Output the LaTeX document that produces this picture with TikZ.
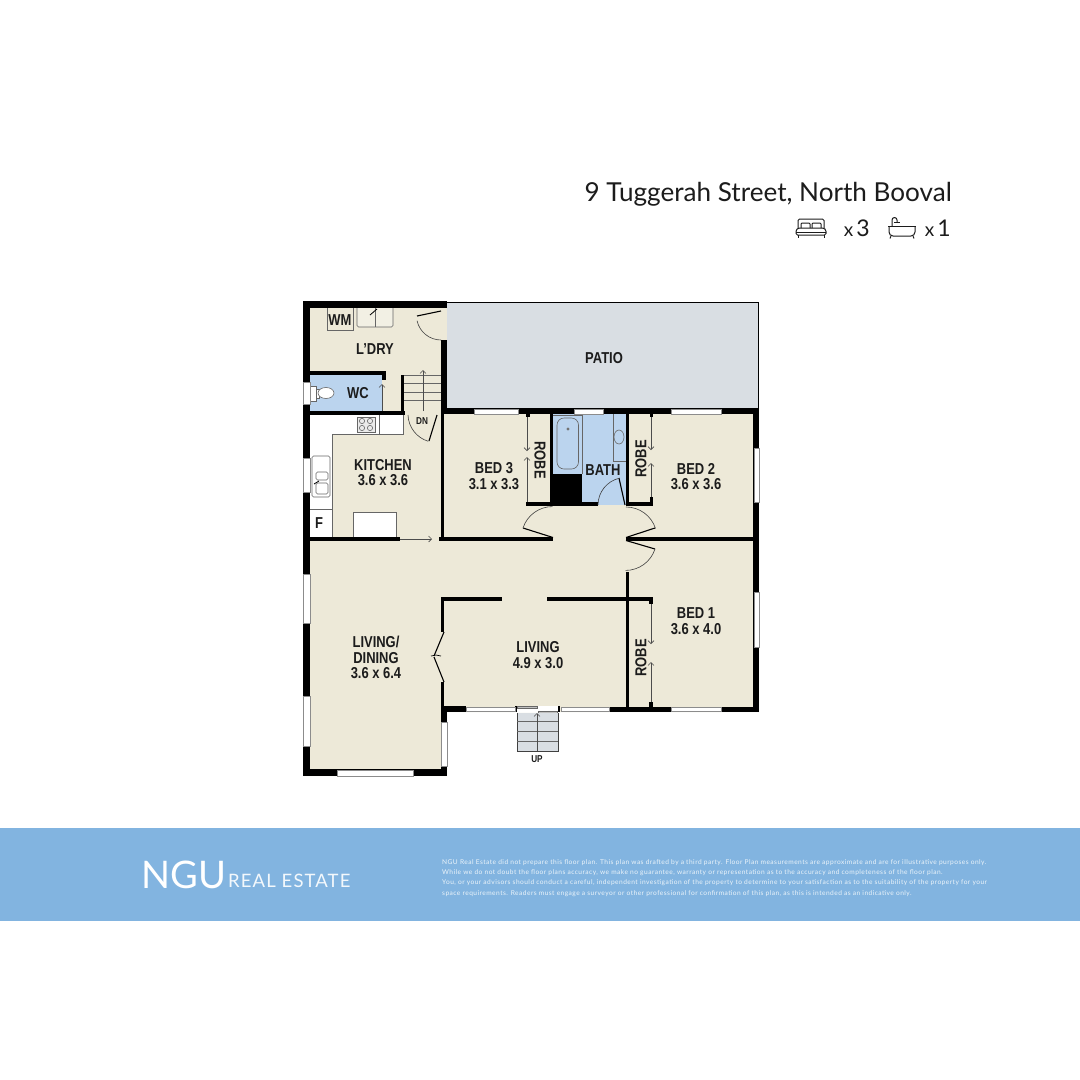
\documentclass[tikz,border=0pt]{standalone}
\usepackage{fontspec}
\usepackage{xcolor}
\usetikzlibrary{arrows.meta}
\setmainfont{Liberation Sans}
\newfontfamily\planfont[FakeStretch=0.82]{Liberation Sans}
\newfontfamily\titlefont{Lato}
\newfontfamily\brandfont[LetterSpace=6]{Lato}
\newfontfamily\finefont[LetterSpace=7]{Lato}
\definecolor{floorcol}{HTML}{EDE9D8}
\definecolor{patiocol}{HTML}{D9DEE3}
\definecolor{wetcol}{HTML}{BBD4EE}
\definecolor{bandcol}{HTML}{82B4E0}
\definecolor{inkcol}{HTML}{1C1C1C}
\tikzset{
  wall/.style={fill=black},
  pane/.style={fill=white,draw=black!45,line width=0.6pt},
  fixture/.style={draw=black!60,line width=0.6pt},
  doorarc/.style={draw=black!75,line width=0.6pt},
  doorleaf/.style={draw=black,line width=1.1pt},
  slide/.style={draw=black!70,line width=0.6pt,-{Straight Barb[length=3pt,width=6pt]}},
  roomlabel/.style={text=inkcol,align=center,inner sep=0pt,font=\planfont\bfseries\fontsize{15.8}{15.5}\selectfont},
  smalllabel/.style={text=inkcol,inner sep=0pt,font=\planfont\bfseries\fontsize{10}{10}\selectfont},
  iconline/.style={draw=inkcol,line width=1pt,line join=round},
  fineline/.style={anchor=base west,inner sep=0pt,text=white!85!bandcol,font=\finefont\fontsize{6.6}{7}\selectfont}
}
\begin{document}
\begin{tikzpicture}[x=1pt,y=-1pt]
  \useasboundingbox (0,0) rectangle (1080,1080);
  % ground
  \fill [white] (0,0) rectangle (1080,1080);
  \fill [bandcol] (0,828) rectangle (1080,921);
  \fill [floorcol] (303,301)--(447,301)--(447,408)--(759,408)--(759,712)--(447,712)--(447,776)--(303,776)--cycle;
  \fill [patiocol] (447,302) rectangle (758,410);
  \draw [black,line width=0.8pt] (447,302)--(758,302)--(758,410);
  \fill [wetcol] (310,375) rectangle (382,412);
  \fill [wetcol] (553,414) rectangle (626,505);
  % kitchen benches
  \fill [white] (310,415)--(403,415)--(403,434)--(332,434)--(332,538)--(310,538)--cycle;
  \draw [fixture] (403,415)--(403,434)--(332,434)--(332,538);
  \draw [fixture] (379,415)--(379,434);
  \draw [fixture] (310,509)--(332,509);
  \draw [fixture,fill=white] (353,537)--(353,512)--(396,512)--(396,537);
  \draw [fixture,fill=black!8] (357,417) rectangle (375,432);
  \draw [fixture] (362,421) circle (2.6);
  \draw [fixture] (370,421) circle (2.6);
  \draw [fixture] (362,428) circle (2.6);
  \draw [fixture] (370,428) circle (2.6);
  \draw [fixture,fill=white,rounded corners=1.5pt] (312,456) rectangle (330,497);
  \draw [fixture,rounded corners=1.5pt] (316,472) rectangle (328,480);
  \draw [fixture,rounded corners=1.5pt] (316,483) rectangle (328,494);
  \draw [black,line width=0.8pt] (314,484)--(319,481);
  % laundry fittings
  \draw [fixture] (327,308)--(327,330)--(353,330)--(353,308);
  \draw [fixture,fill=floorcol!70!white,rounded corners=1.5pt] (357,308)--(357,327)--(393,327)--(393,308);
  \draw [fixture] (375,308)--(375,327);
  \draw [black,line width=0.8pt] (370,315)--(377,309);
  % toilet
  \draw [fixture,fill=white] (310,386) rectangle (316,401);
  \draw [fixture,fill=white] (316,389) rectangle (319,398);
  \draw [fixture,fill=white] (326,393) ellipse (8 and 5.5);
  % bath fittings
  \fill [black] (550,474) rectangle (582,505);
  \draw [fixture] (553,415)--(582,415)--(582,474);
  \draw [fixture,rounded corners=7pt] (557,418) rectangle (578.5,469);
  \fill [black!55] (568,429) circle (1.6);
  \draw [fixture] (613,414)--(613,461)--(626,461);
  \draw [fixture] (619,437) ellipse (5 and 7);
  % stairs down
  \draw [fixture] (404,375)--(441,375);
  \draw [fixture] (404,383)--(441,383);
  \draw [fixture] (404,392)--(441,392);
  \draw [fixture] (404,400)--(441,400);
  \draw [slide] (423,411)--(423,370);
  % walls
  \fill [wall] (303,301) rectangle (447,308);
  \fill [wall] (303,301) rectangle (310,776);
  \fill [wall] (441,340) rectangle (447,414);
  \fill [wall] (310,371) rectangle (386,375);
  \fill [wall] (382,375) rectangle (386,380);
  \fill [wall] (380,411) rectangle (384,415);
  \fill [wall] (310,411) rectangle (405,415);
  \fill [wall] (401,375) rectangle (404,415);
  \fill [wall] (441,408) rectangle (759,414);
  \fill [wall] (441,414) rectangle (444,541);
  \fill [wall] (753,408) rectangle (759,712);
  \fill [wall] (526,414) rectangle (530,417);
  \fill [wall] (526,502) rectangle (553,506);
  \fill [wall] (550,414) rectangle (553,506);
  \fill [wall] (626,414) rectangle (629,506);
  \fill [wall] (553,502) rectangle (598,506);
  \fill [wall] (626,502) rectangle (653,506);
  \fill [wall] (650,497) rectangle (653,506);
  \fill [wall] (650,414) rectangle (653,417);
  \fill [wall] (303,537) rectangle (400,541);
  \fill [wall] (439,537) rectangle (553,541);
  \fill [wall] (626,537) rectangle (753,541);
  \fill [wall] (626,572) rectangle (629,712);
  \fill [wall] (547,597) rectangle (653,601);
  \fill [wall] (649,597) rectangle (653,604);
  \fill [wall] (649,702) rectangle (653,708);
  \fill [wall] (441,597) rectangle (502,601);
  \fill [wall] (441,597) rectangle (444,632);
  \fill [wall] (441,682) rectangle (444,706);
  \fill [wall] (441,706) rectangle (466,712);
  \fill [wall] (441,706) rectangle (447,776);
  \fill [wall] (515,706) rectangle (517,712);
  \fill [wall] (558,706) rectangle (560,712);
  \fill [wall] (609,707) rectangle (759,712);
  \fill [wall] (303,769) rectangle (447,776);
  % windows
  \draw [pane] (303,382) rectangle (310,404);
  \draw [pane] (303,458) rectangle (310,492);
  \draw [pane] (303,574) rectangle (310,623);
  \draw [pane] (303,696) rectangle (310,746);
  \draw [pane] (337,770) rectangle (413,776);
  \draw [pane] (441,722) rectangle (447,766);
  \draw [pane] (466,707) rectangle (515,711);
  \draw [pane] (561,707) rectangle (609,711);
  \draw [pane] (671,707) rectangle (721,711);
  \draw [pane] (754,592) rectangle (759,647);
  \draw [pane] (754,448) rectangle (759,502);
  \draw [pane] (671,409) rectangle (721,414);
  \draw [pane] (574,409) rectangle (603,414);
  \draw [pane] (474,409) rectangle (518,414);
  % doors
  \draw [doorleaf] (441,311)--(417,316);
  \draw [doorarc] (441,340) arc (90:168:24.5);
  \draw [doorleaf] (437,415)--(429,441);
  \draw [doorarc] (408,415) arc (178:107:28.5);
  \draw [doorleaf] (625,505)--(619,478);
  \draw [doorarc] (598,505) arc (180:257:27.5);
  \draw [doorleaf] (553,537.5)--(523,528);
  \draw [doorarc] (523,528) arc (198:270:31);
  \draw [doorleaf] (626,537.5)--(655,528);
  \draw [doorleaf] (626,540.5)--(655,549);
  \draw [doorarc] (626,507) arc (270:342:31);
  \draw [doorarc] (655,549) arc (18:90:31);
  \draw [doorleaf] (444,632)--(434,656);
  \draw [doorleaf] (444,682)--(434,657);
  \draw [black,line width=0.7pt] (431,656)--(436,655)--(441,656);
  % sliding robe doors
  \draw [slide] (382,411)--(382,384);
  \draw [slide] (527,417)--(527,451);
  \draw [slide] (527,502)--(527,457);
  \draw [slide] (651,417)--(651,450);
  \draw [slide] (651,497)--(651,463);
  \draw [slide] (651,604)--(651,644);
  \draw [slide] (651,702)--(651,662);
  \draw [slide] (400,539)--(432,539);
  % entry and front stairs
  \fill [white] (517,706) rectangle (558,712);
  \draw [fixture,fill=black!25] (517,706) rectangle (537,708);
  \draw [fixture,fill=black!25] (538,711) rectangle (557,713);
  \fill [patiocol] (517,713) rectangle (558,751);
  \draw [black!75,line width=0.7pt] (517,713)--(517,751)--(558,751)--(558,713);
  \draw [fixture] (517,721)--(558,721);
  \draw [fixture] (517,731)--(558,731);
  \draw [fixture] (517,741)--(558,741);
  \draw [slide] (537,751)--(537,713);
  % labels
  \node [roomlabel] (patio) at (604,358) {PATIO};
  \node [roomlabel] (ldry) at (375,349) {L’DRY};
  \node [roomlabel] (wm) at (340,320) {WM};
  \node [roomlabel] (wc) at (358,393) {WC};
  \node [roomlabel] (fridge) at (319,523) {F};
  \node [roomlabel] (kitchen) at (383,472.5) {KITCHEN\\3.6 x 3.6};
  \node [roomlabel] (bedthree) at (494,476) {BED 3\\3.1 x 3.3};
  \node [roomlabel] (bath) at (603,470) {BATH};
  \node [roomlabel] (bedtwo) at (696,476.5) {BED 2\\3.6 x 3.6};
  \node [roomlabel] (bedone) at (696,621) {BED 1\\3.6 x 4.0};
  \node [roomlabel] (living) at (538,655) {LIVING\\4.9 x 3.0};
  \node [roomlabel] (dining) at (376,657.5) {LIVING/\\DINING\\3.6 x 6.4};
  \node [roomlabel,rotate=-90] (robethree) at (540,460) {ROBE};
  \node [roomlabel,rotate=90] (robetwo) at (641,459) {ROBE};
  \node [roomlabel,rotate=90] (robeone) at (641,658) {ROBE};
  \node [smalllabel] (dn) at (422,421) {DN};
  \node [smalllabel] (up) at (537,759) {UP};
  % heading
  \node [anchor=base east,inner sep=0pt,text=inkcol,font=\titlefont\fontsize{26.1}{26}\selectfont] (title) at (952,201) {9 Tuggerah Street, North Booval};
  \node [anchor=base east,inner sep=0pt,text=inkcol,font=\titlefont\fontsize{23}{23}\selectfont] (bedcount) at (870,236) {\fontsize{19}{19}\selectfont x\,\fontsize{23}{23}\selectfont 3};
  \node [anchor=base east,inner sep=0pt,text=inkcol,font=\titlefont\fontsize{23}{23}\selectfont] (bathcount) at (951,236) {\fontsize{19}{19}\selectfont x\,\fontsize{23}{23}\selectfont 1};
  % bed icon
  \draw [iconline,rounded corners=1.5pt] (798,228)--(798,219)--(824,219)--(824,228);
  \draw [iconline,rounded corners=1pt] (801,228)--(801,223)--(810,223)--(810,228);
  \draw [iconline,rounded corners=1pt] (812,228)--(812,223)--(821,223)--(821,228);
  \draw [iconline,rounded corners=1.5pt] (796,235)--(796,230)--(798,228)--(824,228)--(826,230)--(826,235)--cycle;
  \draw [iconline] (796,232)--(826,232);
  \draw [iconline] (798,235)--(798,238);
  \draw [iconline] (824,235)--(824,238);
  % bath icon
  \draw [iconline] (888,226)--(916,226);
  \draw [iconline,rounded corners=4pt] (889,226)--(889,236)--(915,236)--(915,226);
  \draw [iconline] (892,226)--(892,220) arc (180:360:2.5)--(897,222);
  \draw [iconline] (894,222.5)--(900,222.5);
  \draw [iconline] (891,236)--(890,238.5);
  \draw [iconline] (913,236)--(914,238.5);
  % brand and small print
  \node [anchor=base west,inner sep=0pt,text=white,font=\titlefont\fontsize{38}{38}\selectfont] (ngu) at (141,888) {NGU};
  \node [anchor=base west,inner sep=0pt,text=white!90!bandcol,font=\brandfont\fontsize{18.5}{18}\selectfont] (estate) at (228,887) {REAL ESTATE};
  \node [fineline] (fineone) at (442,864) {NGU Real Estate did not prepare this floor plan. This plan was drafted by a third party. Floor Plan measurements are approximate and are for illustrative purposes only.};
  \node [fineline] (finetwo) at (442,874.5) {While we do not doubt the floor plans accuracy, we make no guarantee, warranty or representation as to the accuracy and completeness of the floor plan.};
  \node [fineline] (finethree) at (442,884.5) {You, or your advisors should conduct a careful, independent investigation of the property to determine to your satisfaction as to the suitability of the property for your};
  \node [fineline] (finefour) at (442,895) {space requirements. Readers must engage a surveyor or other professional for confirmation of this plan, as this is intended as an indicative only.};
\end{tikzpicture}
\end{document}
